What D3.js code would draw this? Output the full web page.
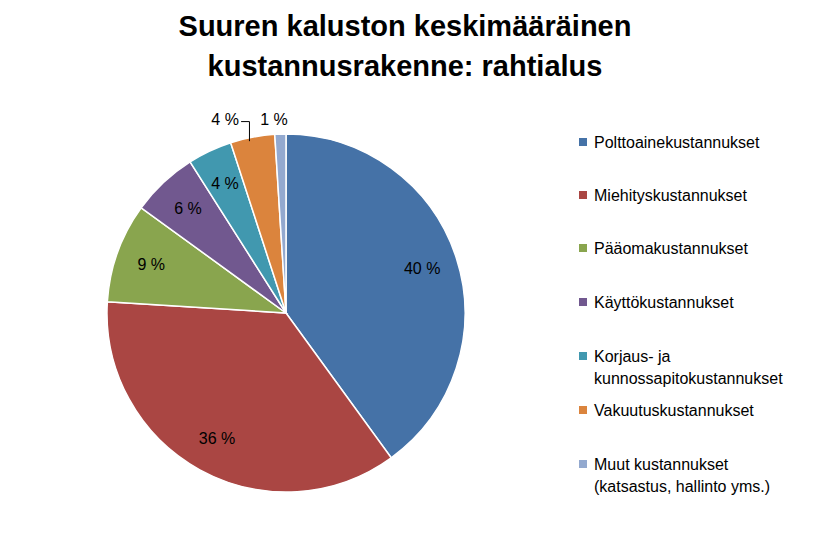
<!DOCTYPE html>
<html><head><meta charset="utf-8">
<script src="https://cdn.jsdelivr.net/npm/d3@7"></script>
<style>body{margin:0;background:#fff}</style></head>
<body><svg id="c" width="834" height="535"></svg>
<script>
const categories=["Polttoainekustannukset","Miehityskustannukset","Pääomakustannukset","Käyttökustannukset","Korjaus- ja|kunnossapitokustannukset","Vakuutuskustannukset","Muut kustannukset|(katsastus, hallinto yms.)"];
const values=[40,36,9,6,4,4,1];
const labels=["40 %","36 %","9 %","6 %","4 %","4 %","1 %"];
const colors=["#4572A7","#AA4643","#89A54E","#71588F","#4198AF","#DB843D","#93A9CF"];
const svg=d3.select("#c"),cx=286,cy=313,r=179;
const font="Liberation Sans, Arial, sans-serif";
svg.append("text").attr("x",405).attr("y",36).attr("text-anchor","middle").attr("font-family",font).attr("font-weight","bold").attr("font-size",29).text("Suuren kaluston keskimääräinen");
svg.append("text").attr("x",405).attr("y",76).attr("text-anchor","middle").attr("font-family",font).attr("font-weight","bold").attr("font-size",29).text("kustannusrakenne: rahtialus");
const pie=d3.pie().sort(null).value(d=>d)(values);
const arc=d3.arc().innerRadius(0).outerRadius(r);
const g=svg.append("g").attr("transform",`translate(${cx},${cy})`);
g.selectAll("path").data(pie).join("path").attr("d",arc).attr("fill",(d,i)=>colors[i]).attr("stroke","#fff").attr("stroke-width",1.5);
pie.forEach((d,i)=>{
  const a=(d.startAngle+d.endAngle)/2;
  let rr=0.8*r,dx=0,dy=0;
  if(i==5){rr=1.1*r;dx=-24;dy=0;}
  if(i==6){rr=1.08*r;dx=-6;dy=0;}
  const x=rr*Math.sin(a)+dx,y=-rr*Math.cos(a)+dy;
  g.append("text").attr("x",x).attr("y",y).attr("dy","0.35em").attr("text-anchor","middle").attr("font-family",font).attr("font-size",16).attr("fill","#000").text(labels[i]);
  if(i==5){const px=r*Math.sin(a),py=-r*Math.cos(a);
    g.append("path").attr("d",`M${x+16},${y+2}H${px-3}V${py+4}`).attr("fill","none").attr("stroke","#000").attr("stroke-width",1);}
});
const ly=[142,195,248,302,356,410,464];
categories.forEach((c,i)=>{
  const lines=c.split("|");
  svg.append("rect").attr("x",579).attr("y",ly[i]-4).attr("width",8).attr("height",8).attr("fill",colors[i]);
  lines.forEach((t,j)=>svg.append("text").attr("x",594).attr("y",ly[i]+22*j).attr("dy","0.35em").attr("font-family",font).attr("font-size",16).text(t));
});
</script></body></html>
